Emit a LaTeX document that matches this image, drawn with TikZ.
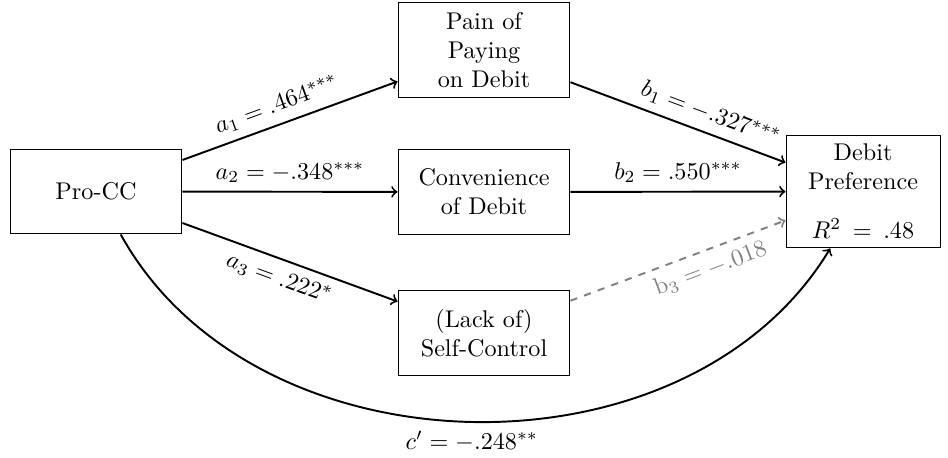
\documentclass[tikz,border=0pt]{standalone}
\begin{document}
\begin{tikzpicture}[x=0.4135pt,y=-0.4135pt,
  box/.style={draw, line width=0.4pt, align=center, inner sep=0pt, minimum width=71.1pt, minimum height=35.1pt},
  arr/.style={->, thick}]
\useasboundingbox (0,0) rectangle (948,458);
\node[box] (pro) at (96,191.5) {Pro-CC};
\node[box, minimum height=38.9pt] (pain) at (484,50) {Pain of\\Paying\\on Debit};
\node[box] (conv) at (484,192) {Convenience\\of Debit};
\node[box] (self) at (484,333) {(Lack of)\\Self-Control};
\node[box, minimum width=63.7pt, minimum height=46.7pt] (dep) at (863,191.5) {Debit\\Preference\\[8pt]$R^2$\hspace{4.8pt}=\hspace{4.8pt}.48};
\draw[arr] (pro) -- node[sloped, above, pos=0.47] {$a_1 = .464^{***}$} (pain);
\draw[arr] (pro) -- node[above] {$a_2 = -.348^{***}$} (conv);
\draw[arr] (pro) -- node[sloped, below, pos=0.48] {$a_3 = .222^{*}$} (self);
\draw[arr] (pain) -- node[sloped, above, pos=0.62] {$b_1 = -.327^{***}$} (dep);
\draw[arr] (conv) -- node[above] {$b_2 = .550^{***}$} (dep);
\draw[arr, gray, dashed] (self) -- node[sloped, below, pos=0.62] {$\mathrm{b}_3 = -.018$} (dep);
\draw[arr] (pro) to[bend right=60] node[below] {$c' = -.248^{**}$} (dep);
\end{tikzpicture}
\end{document}
